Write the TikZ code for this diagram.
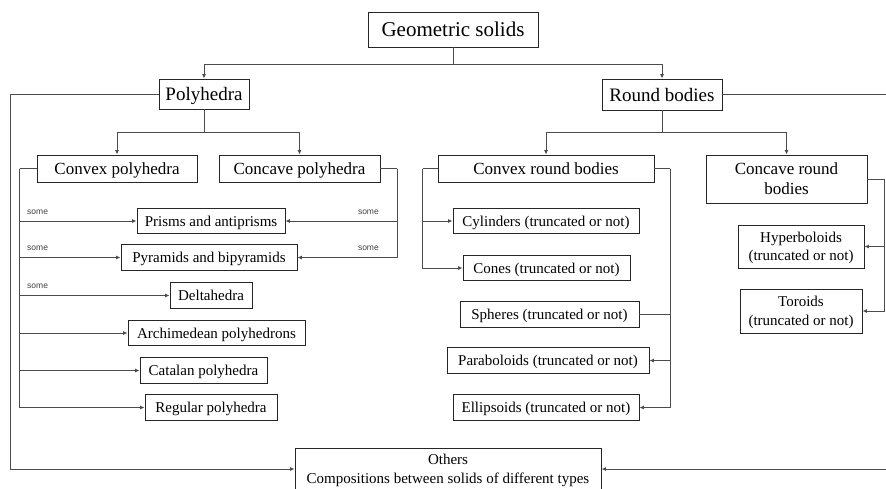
\documentclass[tikz,border=0pt]{standalone}
\usepackage{fontspec}
\setmainfont{Liberation Serif}
\newfontfamily\somefont{Liberation Sans}
\usetikzlibrary{arrows.meta}

\tikzset{
  bx/.style={draw=black!85, line width=0.9pt, inner sep=0pt, align=center, text depth=0pt},
  bigtxt/.style={font=\fontsize{21}{24}\selectfont},
  hdtxt/.style={font=\fontsize{19}{22}\selectfont},
  midtxt/.style={font=\fontsize{17}{20}\selectfont},
  smltxt/.style={font=\fontsize{15}{18.5}\selectfont},
  link/.style={draw=black!70, line width=0.9pt},
  arr/.style={link, -{Latex[length=4.5pt,width=4pt]}},
  somelbl/.style={font=\somefont\fontsize{8.5}{10}\selectfont, inner sep=0pt, text=black!75},
}

\begin{document}
\begin{tikzpicture}[x=1pt, y=-1pt]
  \useasboundingbox (0,0) rectangle (886,488);
  % levels 0 and 1
  \node[bx, bigtxt, minimum width=170pt, minimum height=35pt] (gs) at (453,29.5) {Geometric solids};
  \node[bx, hdtxt, minimum width=90pt, minimum height=30pt] (poly) at (204,94) {Polyhedra};
  \node[bx, hdtxt, minimum width=120pt, minimum height=31pt] (round) at (662,94.5) {Round bodies};
  % level 2
  \node[bx, midtxt, minimum width=160pt, minimum height=27pt] (cvxp) at (117,168.5) {Convex polyhedra};
  \node[bx, midtxt, minimum width=161pt, minimum height=27pt] (ccvp) at (299.5,168.5) {Concave polyhedra};
  \node[bx, midtxt, minimum width=216pt, minimum height=27pt] (cvxr) at (546,168.5) {Convex round bodies};
  \node[bx, midtxt, minimum width=161pt, minimum height=48pt] (ccvr) at (786.5,179) {Concave round\\ bodies};
  % leaves
  \foreach \nm/\cx/\cy/\w/\lab in {prisms/211/221/148/{Prisms and antiprisms},
      pyram/209/257.5/176/{Pyramids and bipyramids}, delta/211/295.5/82/{Deltahedra},
      archi/216.5/333/177/{Archimedean polyhedrons}, catal/203.5/370.5/127/{Catalan polyhedra},
      regul/211/407.5/132/{Regular polyhedra}, cyl/546/221/186/{Cylinders (truncated or not)},
      cones/546.5/268/167/{Cones (truncated or not)}, spher/549.5/314.5/179/{Spheres (truncated or not)},
      parab/548/360.5/202/{Paraboloids (truncated or not)}, ellip/546/407.5/186/{Ellipsoids (truncated or not)}}
    \node[bx, smltxt, minimum width=\w pt, minimum height=25.5pt] (\nm) at (\cx,\cy) {\lab};
  \node[bx, smltxt, minimum width=126pt, minimum height=43pt] (hyper) at (801,246.5) {Hyperboloids\\ (truncated or not)};
  \node[bx, smltxt, minimum width=122pt, minimum height=44pt] (toro) at (801,311) {Toroids\\ (truncated or not)};
  \node[bx, smltxt, minimum width=306pt, minimum height=42pt] (others) at (448,469) {Others\\ Compositions between solids of different types};

  % tree links
  \coordinate (j0) at (453,64);
  \draw[link] (gs.south) -- (j0);
  \draw[arr] (j0) -| (poly.north);
  \draw[arr] (j0) -| (round.north);
  \coordinate (j1) at (204,132);
  \draw[link] (poly.south) -- (j1);
  \draw[arr] (j1) -| (cvxp.north);
  \draw[arr] (j1) -| (ccvp.north);
  \coordinate (j2) at (662,132);
  \draw[link] (round.south) -- (j2);
  \draw[arr] (j2) -| (cvxr.north);
  \draw[arr] (j2) -| (ccvr.north);

  % side rails
  \draw[link] (cvxp.west) -- ++(-17,0) coordinate (lp);
  \foreach \nm in {prisms,pyram,delta,archi,catal,regul} \draw[arr] (lp) |- (\nm.west);
  \draw[link] (ccvp.east) -- ++(17,0) coordinate (rp);
  \foreach \nm in {prisms,pyram} \draw[arr] (rp) |- (\nm.east);
  \draw[link] (cvxr.west) -- ++(-15,0) coordinate (lr);
  \foreach \nm in {cyl,cones} \draw[arr] (lr) |- (\nm.west);
  \draw[link] (cvxr.east) -- ++(16,0) coordinate (rr);
  \draw[link] (rr) |- (spher.east);
  \foreach \nm in {parab,ellip} \draw[arr] (rr) |- (\nm.east);
  \draw[link] (ccvr.east) -- ++(17,0) coordinate (rc);
  \foreach \nm in {hyper,toro} \draw[arr] (rc) |- (\nm.east);

  % outer rails to others
  \coordinate (lo) at (10,469);
  \coordinate (ro) at (896,469);
  \draw[arr] (poly.west) -| (lo) -- (others.west);
  \draw[arr] (round.east) -| (ro) -- (others.east);

  % some
  \node[somelbl, anchor=west] (s1) at (27,212) {some};
  \node[somelbl, anchor=west] (s2) at (27,248) {some};
  \node[somelbl, anchor=west] (s3) at (27,286) {some};
  \node[somelbl, anchor=east] (s4) at (379,212) {some};
  \node[somelbl, anchor=east] (s5) at (379,248) {some};
\end{tikzpicture}
\end{document}
